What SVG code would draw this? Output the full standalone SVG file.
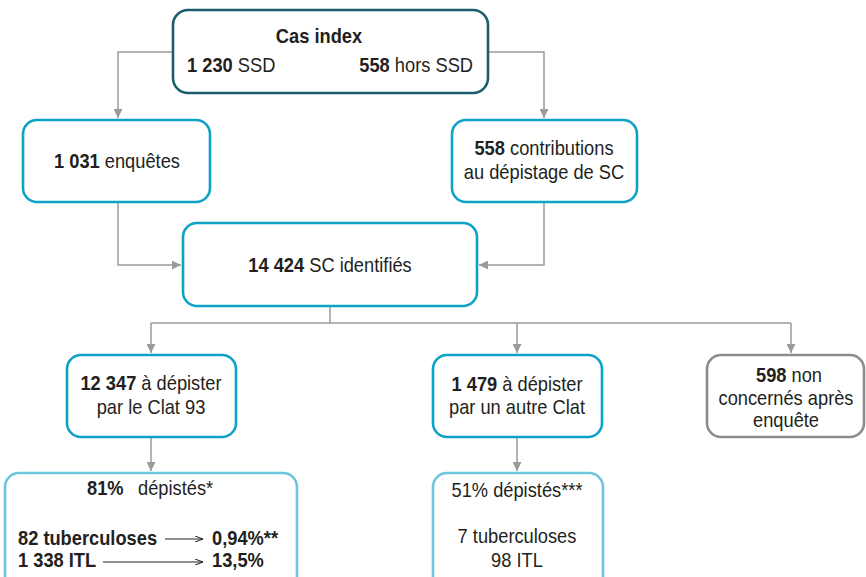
<svg xmlns="http://www.w3.org/2000/svg" width="866" height="577" viewBox="0 0 866 577">
<style>
.t{font-family:"Liberation Sans",Arial,sans-serif;font-size:21px;fill:#231f20}
.m{text-anchor:middle}
.b{font-weight:bold}
.box{fill:#fff;stroke-width:2.6}
.dark{stroke:#1c5d6c}
.blue{stroke:#0ea3c6}
.light{stroke:#6cc6de}
.grey{stroke:#8c8c8c}
.con{fill:none;stroke:#9a9a9a;stroke-width:1.5}
.thin{fill:none;stroke:#231f20;stroke-width:1}
</style>
<defs>
<marker id="ah" viewBox="0 0 10 10" refX="10" refY="5" markerWidth="10" markerHeight="9" markerUnits="userSpaceOnUse" orient="auto">
<path d="M0,0 L10,5 L0,10 z" fill="#9a9a9a"/>
</marker>
<marker id="oh" viewBox="0 0 8 6" refX="8" refY="3" markerWidth="8" markerHeight="6" markerUnits="userSpaceOnUse" orient="auto">
<path d="M0,0 L8,3 L0,6" fill="none" stroke="#231f20" stroke-width="1"/>
</marker>
</defs>
<rect width="866" height="577" fill="#fff"/>
<g id="connectors">
<path class="con" d="M173,52 H118 V118" marker-end="url(#ah)"/>
<path class="con" d="M488,52 H544 V118" marker-end="url(#ah)"/>
<path class="con" d="M118,202 V265 H181" marker-end="url(#ah)"/>
<path class="con" d="M544,202 V265 H479" marker-end="url(#ah)"/>
<path class="con" d="M330,306 V323 M151,323 H791"/>
<path class="con" d="M151,323 V353" marker-end="url(#ah)"/>
<path class="con" d="M517,323 V353" marker-end="url(#ah)"/>
<path class="con" d="M791,323 V353" marker-end="url(#ah)"/>
<path class="con" d="M151,437 V471" marker-end="url(#ah)"/>
<path class="con" d="M517,437 V471" marker-end="url(#ah)"/>
</g>
<g id="cas-index">
<rect class="box dark" x="173" y="10" width="315" height="83" rx="15"/>
<text class="t m b" transform="translate(319,43) scale(0.87,1)">Cas index</text>
<text class="t" transform="translate(187,72) scale(0.87,1)"><tspan class="b">1 230</tspan> SSD</text>
<text class="t" transform="translate(473,72) scale(0.87,1)" text-anchor="end"><tspan class="b">558</tspan> hors SSD</text>
</g>
<g id="enquetes">
<rect class="box blue" x="23" y="120" width="187" height="82" rx="14"/>
<text class="t m" transform="translate(117,168) scale(0.87,1)"><tspan class="b">1 031</tspan> enquêtes</text>
</g>
<g id="contributions">
<rect class="box blue" x="452" y="120" width="185" height="82" rx="14"/>
<text class="t m" transform="translate(544,155) scale(0.87,1)"><tspan class="b">558</tspan> contributions</text>
<text class="t m" transform="translate(544,179) scale(0.87,1)">au dépistage de SC</text>
</g>
<g id="identifies">
<rect class="box blue" x="183" y="223" width="294" height="83" rx="14"/>
<text class="t m" transform="translate(330,272) scale(0.87,1)"><tspan class="b">14 424</tspan> SC identifiés</text>
</g>
<g id="clat93">
<rect class="box blue" x="67" y="355" width="169" height="82" rx="14"/>
<text class="t m" transform="translate(151,390) scale(0.87,1)"><tspan class="b">12 347</tspan> à dépister</text>
<text class="t m" transform="translate(151,414) scale(0.87,1)">par le Clat 93</text>
</g>
<g id="autre-clat">
<rect class="box blue" x="433" y="355" width="169" height="82" rx="14"/>
<text class="t m" transform="translate(517,391) scale(0.87,1)"><tspan class="b">1 479</tspan> à dépister</text>
<text class="t m" transform="translate(517,414) scale(0.87,1)">par un autre Clat</text>
</g>
<g id="non-concernes">
<rect class="box grey" x="707" y="355" width="157" height="82" rx="14"/>
<text class="t m" transform="translate(789,382) scale(0.87,1)"><tspan class="b">598</tspan> non</text>
<text class="t m" transform="translate(786,405) scale(0.87,1)">concernés après</text>
<text class="t m" transform="translate(786,427) scale(0.87,1)">enquête</text>
</g>
<g id="depistes-81">
<rect class="box light" x="5" y="473" width="292" height="120" rx="14"/>
<text class="t b" transform="translate(87,495) scale(0.87,1)">81%</text>
<text class="t" transform="translate(138,495) scale(0.87,1)">dépistés*</text>
<text class="t b" transform="translate(18,545) scale(0.87,1)">82 tuberculoses</text>
<path class="thin" d="M165,539 H203" marker-end="url(#oh)"/>
<text class="t b" transform="translate(212,545) scale(0.87,1)">0,94%**</text>
<text class="t b" transform="translate(18,567) scale(0.87,1)">1 338 ITL</text>
<path class="thin" d="M103,562 H203" marker-end="url(#oh)"/>
<text class="t b" transform="translate(212,567) scale(0.87,1)">13,5%</text>
</g>
<g id="depistes-51">
<rect class="box light" x="433" y="473" width="170" height="120" rx="14"/>
<text class="t m" transform="translate(517,497) scale(0.87,1)">51% dépistés***</text>
<text class="t m" transform="translate(517,543) scale(0.87,1)">7 tuberculoses</text>
<text class="t m" transform="translate(517,567) scale(0.87,1)">98 ITL</text>
</g>
</svg>
